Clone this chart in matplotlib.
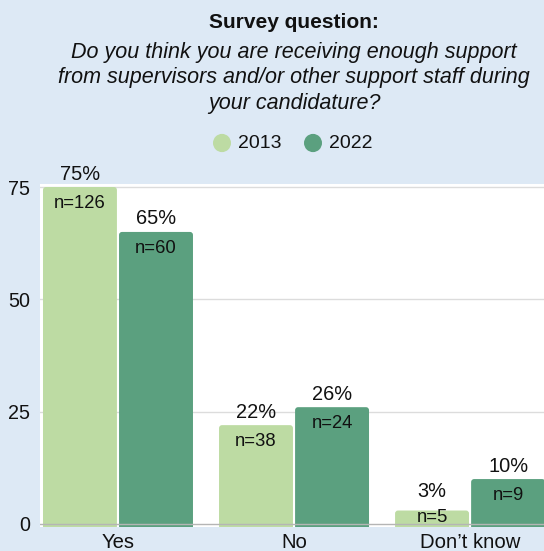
import matplotlib
matplotlib.use("Agg")
import matplotlib.pyplot as plt
from matplotlib.patches import FancyBboxPatch, Circle

plt.rcParams['font.family'] = ['Liberation Sans', 'DejaVu Sans']

categories = ["Yes", "No", "Don\u2019t know"]
years = ["2013", "2022"]
pct_2013 = [75, 22, 3]
pct_2022 = [65, 26, 10]
n_2013 = [126, 38, 5]
n_2022 = [60, 24, 9]
yticks = [0, 25, 50, 75]

BG = "#dde9f5"
COL_2013 = "#bddba3"
COL_2022 = "#5ba07f"
INK = "#111111"

fig = plt.figure(figsize=(5.44, 5.51), dpi=100)
fig.patch.set_facecolor(BG)

ax = fig.add_axes([40 / 544, 1 - 527 / 551, 1 - 40 / 544, (527 - 184) / 551])
ax.set_facecolor("white")
ax.set_xlim(-0.443, 2.42)
ax.set_ylim(-0.67, 75.67)
for s in ax.spines.values():
    s.set_visible(False)

ax.set_yticks(yticks)
ax.set_yticklabels([str(t) for t in yticks], fontsize=14.2, color=INK)
ax.tick_params(axis="y", length=0, pad=7)
ax.set_xticks(range(len(categories)))
ax.set_xticklabels(categories, fontsize=14.6, color=INK)
ax.tick_params(axis="x", length=0, pad=4.5)
for t in yticks[1:]:
    ax.axhline(t, color="#dcdcdc", lw=1.0, zorder=0)
ax.axhline(0, color="#b5b5b5", lw=1.0, zorder=5)

bar_w = 0.42
offset = 0.216
px_x = 176.0
px_y = (524 - 187) / 75.0
aspect = px_x / px_y
r = 3.0 / px_x


def draw_bar(xc, value, color, n):
    x0 = xc - bar_w / 2
    bottom = -1.5
    patch = FancyBboxPatch((x0, bottom), bar_w, value - bottom,
                           boxstyle=f"round,pad=0,rounding_size={r}",
                           mutation_aspect=aspect, facecolor=color,
                           edgecolor="none", zorder=3, clip_on=True)
    ax.add_patch(patch)
    pct_y = max(value, 19 / px_y) + 13 / px_y
    ax.text(xc, pct_y, f"{value}%", ha="center", va="center",
            fontsize=14.4, color=INK, zorder=6)
    n_y = max(value - 16.5 / px_y, 6 / px_y)
    ax.text(xc, n_y, f"n={n}", ha="center", va="center",
            fontsize=13.3, color=INK, zorder=6)


for i in range(len(categories)):
    draw_bar(i - offset, pct_2013[i], COL_2013, n_2013[i])
    draw_bar(i + offset, pct_2022[i], COL_2022, n_2022[i])

W, H = 544.0, 551.0
fig.text(294 / W, 1 - 23 / H, "Survey question:", ha="center", va="center",
         fontsize=15, fontweight="bold", color=INK)
question = ["Do you think you are receiving enough support",
            "from supervisors and/or other support staff during",
            "your candidature?"]
for k, line in enumerate(question):
    fig.text(294 / W, 1 - (53 + 25 * k) / H, line, ha="center", va="center",
             fontsize=15.5, style="italic", color=INK)

legend_items = [(222, 238, years[0], COL_2013), (313, 329, years[1], COL_2022)]
for cx, tx, label, col in legend_items:
    fig.patches.append(Circle((cx / W, 1 - 143 / H), 9 / W, transform=fig.transFigure,
                              facecolor=col, edgecolor="none"))
    fig.text(tx / W, 1 - 143 / H, label, ha="left", va="center",
             fontsize=14, color=INK)

fig.savefig("out.png", dpi=100, facecolor=BG)
